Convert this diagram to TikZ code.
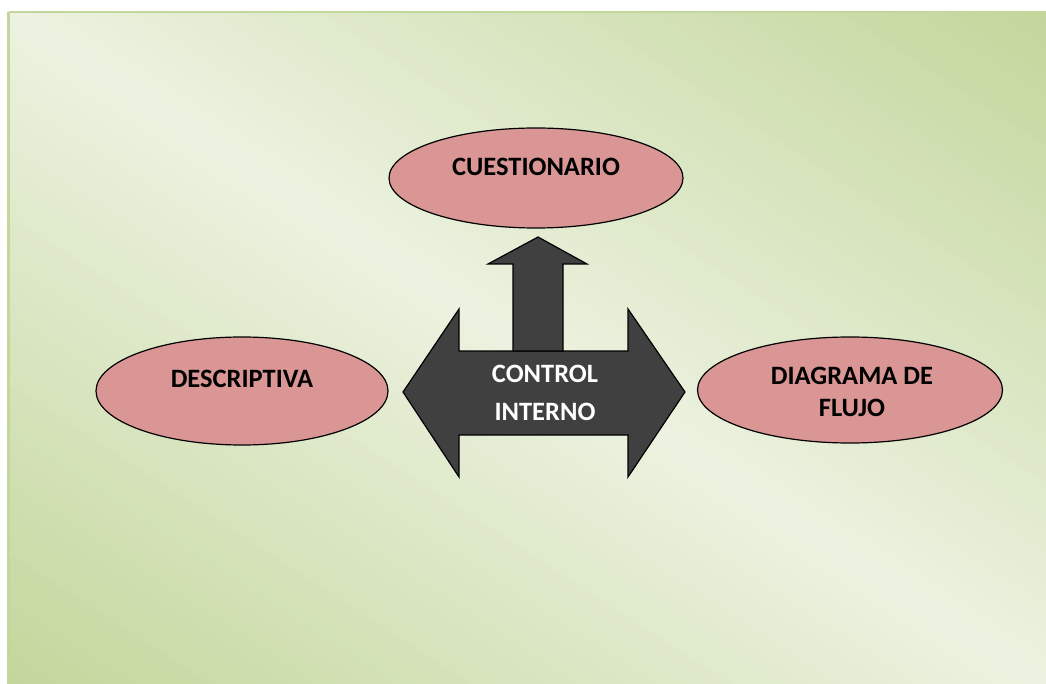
\documentclass[tikz,border=0pt]{standalone}
\usepackage{fontspec}
\setmainfont{Carlito}
\usetikzlibrary{shapes.geometric}
\definecolor{bgdark}{RGB}{195,214,155}
\definecolor{bglight}{RGB}{236,242,224}
\definecolor{bgline}{RGB}{195,214,155}
\definecolor{ovalfill}{RGB}{217,150,148}
\definecolor{arrowfill}{RGB}{64,64,64}
\tikzset{
  oval/.style={ellipse, draw=black, line width=1.2pt, fill=ovalfill, inner sep=0pt},
  lbl/.style={font=\bfseries\fontsize{26.5}{32}\selectfont, text=black, align=center, inner sep=0pt},
  wlbl/.style={font=\bfseries\fontsize{26.5}{38}\selectfont, text=white, align=center, inner sep=0pt},
  bigarrow/.style={draw=black, line width=1.2pt, fill=arrowfill, line join=miter}
}
\begin{document}
\begin{tikzpicture}[x=1pt,y=-1pt]
\useasboundingbox (0,0) rectangle (1046,684);
\fill[white] (0,0) rectangle (1046,684);
% panel with diagonal gradient
\begin{scope}
\clip (8,12) rectangle (1050,688);
\foreach \i in {0,...,79}{
  \pgfmathsetmacro\sa{-1+\i*0.025}
  \pgfmathsetmacro\sb{\sa+0.027}
  \pgfmathsetmacro\sm{\sa+0.0125}
  \pgfmathsetmacro\pct{100*(1-abs(\sm))}
  \pgfmathsetmacro\xa{529+\sa*521-2*521}
  \pgfmathsetmacro\ya{350-\sa*338-2*338}
  \pgfmathsetmacro\xb{529+\sa*521+2*521}
  \pgfmathsetmacro\yb{350-\sa*338+2*338}
  \pgfmathsetmacro\xc{529+\sb*521+2*521}
  \pgfmathsetmacro\yc{350-\sb*338+2*338}
  \pgfmathsetmacro\xd{529+\sb*521-2*521}
  \pgfmathsetmacro\yd{350-\sb*338-2*338}
  \fill[bglight!\pct!bgdark] (\xa,\ya) -- (\xb,\yb) -- (\xc,\yc) -- (\xd,\yd) -- cycle;
}
\end{scope}
\draw[bgline, line width=2.5pt] (8.5,12) -- (1050,12);
\draw[bgline, line width=2.5pt] (8.5,12) -- (8.5,688);
% ovals
\node[oval, minimum width=294pt, minimum height=100pt] (cue) at (536,178) {};
\node[lbl] (cuet) at (536,167) {CUESTIONARIO};
\node[oval, minimum width=292pt, minimum height=108pt] (des) at (242,391) {};
\node[lbl] (dest) at (242,379) {DESCRIPTIVA};
\node[oval, minimum width=305pt, minimum height=106pt] (dia) at (850,390) {};
\node[lbl] (diat) at (852,392) {DIAGRAMA DE\\FLUJO};
% double arrow
\draw[bigarrow] (403,392) -- (459,309) -- (459,351) -- (628,351) -- (628,309) -- (685,392)
  -- (628,477) -- (628,435) -- (459,435) -- (459,477) -- cycle;
% up arrow
\draw[bigarrow] (513,351) -- (513,264) -- (488,264) -- (538,237) -- (587,264) -- (563,264) -- (563,351) -- cycle;
\node[wlbl] (ctl) at (545,393) {CONTROL\\INTERNO};
\end{tikzpicture}
\end{document}
